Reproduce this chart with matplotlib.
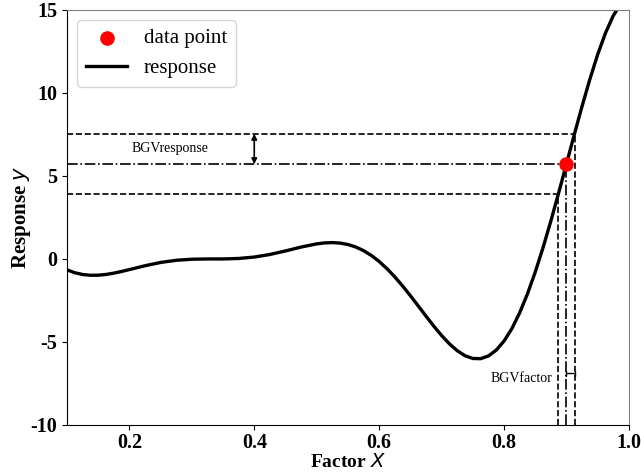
import matplotlib
import matplotlib.pyplot as plt
import numpy as np

matplotlib.use("Agg")

# response curve
x_curve = [0.1, 0.1125, 0.125, 0.1375, 0.15, 0.1625, 0.175, 0.1875, 0.2, 0.225,
           0.25, 0.275, 0.3, 0.325, 0.35, 0.375, 0.4, 0.425, 0.45, 0.475, 0.5,
           0.5125, 0.525, 0.5375, 0.55, 0.5625, 0.575, 0.5875, 0.6, 0.6125,
           0.625, 0.6375, 0.65, 0.6625, 0.675, 0.6875, 0.7, 0.7125, 0.725,
           0.7375, 0.75, 0.7625, 0.775, 0.7875, 0.8, 0.8125, 0.825, 0.8375,
           0.85, 0.8625, 0.875, 0.8875, 0.9, 0.9125, 0.925, 0.9375, 0.95,
           0.9625, 0.975, 0.9875, 1.0]
y_curve = [-0.657, -0.829, -0.935, -0.982, -0.978, -0.932, -0.854, -0.753, -0.640,
           -0.407, -0.210, -0.079, -0.016, -0.000, 0.002, 0.030, 0.115, 0.270,
           0.483, 0.717, 0.909, 0.967, 0.986, 0.957, 0.871, 0.722, 0.503, 0.213,
           -0.149, -0.581, -1.074, -1.621, -2.209, -2.821, -3.439, -4.042, -4.606,
           -5.107, -5.522, -5.825, -5.993, -6.006, -5.845, -5.495, -4.949, -4.206,
           -3.254, -2.114, -0.799, 0.673, 2.272, 3.965, 5.712, 7.470, 9.187,
           10.813, 12.303, 13.599, 14.647, 15.406, 15.830]

# data point and its bands
x_point = 0.9
y_point = 5.71
x_low, x_high = 0.887, 0.913
y_low, y_high = 3.90, 7.54

plt.rcParams["font.family"] = ["Liberation Serif", "DejaVu Serif"]

fig = plt.figure(figsize=(6.41, 4.73), dpi=100)
ax = fig.add_axes([0.1045, 0.1015, 0.8765, 0.8775])

xmin, xmax = 0.1, 1.0
ymin, ymax = -10, 15

ax.scatter([x_point], [y_point], s=90, color="red", zorder=5, label="data point")
ax.plot(x_curve, y_curve, color="black", lw=2.4, label="response")

# horizontal guide lines
ax.plot([xmin, x_point], [y_point, y_point], color="black", lw=1.2, ls="-.")
ax.plot([xmin, x_high], [y_high, y_high], color="black", lw=1.2, ls="--")
ax.plot([xmin, x_low], [y_low, y_low], color="black", lw=1.2, ls="--")

# vertical guide lines
ax.plot([x_point, x_point], [ymin, y_point], color="black", lw=1.2, ls="-.")
ax.plot([x_high, x_high], [ymin, y_high], color="black", lw=1.2, ls="--")
ax.plot([x_low, x_low], [ymin, y_low], color="black", lw=1.2, ls="--")

ax.annotate("", xy=(0.4, y_high), xytext=(0.4, y_point),
            arrowprops=dict(arrowstyle="<|-|>", color="black", lw=1.2,
                            mutation_scale=8, shrinkA=0, shrinkB=0))
ax.text(0.265, 6.65, "BGVresponse", fontsize=10, ha="center", va="center")

ax.annotate("", xy=(x_high, -6.9), xytext=(x_point, -6.9),
            arrowprops=dict(arrowstyle="|-|,widthA=0.15,widthB=0.15",
                            color="black", lw=1.0, shrinkA=0, shrinkB=0))
ax.text(0.877, -7.2, "BGVfactor", fontsize=10, ha="right", va="center")

ax.set_xlim(xmin, xmax)
ax.set_ylim(ymin, ymax)
ax.set_xticks([0.2, 0.4, 0.6, 0.8, 1.0])
ax.set_yticks([-10, -5, 0, 5, 10, 15])
ax.set_xticklabels(["0.2", "0.4", "0.6", "0.8", "1.0"])
ax.set_yticklabels(["-10", "-5", "0", "5", "10", "15"])
ax.tick_params(axis="x", pad=2)
for lbl in ax.get_xticklabels() + ax.get_yticklabels():
    lbl.set_fontweight("bold")
    lbl.set_fontsize(14.5)

ax.set_xlabel("Factor $X$", fontsize=14, fontweight="bold", labelpad=0)
ax.set_ylabel("Response $y$", fontsize=15, fontweight="bold", labelpad=-2)

ax.spines["top"].set_color("0.5")
ax.spines["right"].set_color("0.5")

ax.legend(loc="upper left", fontsize=15, borderaxespad=0.5, labelspacing=0.5)

plt.savefig("out.png", dpi=100)
